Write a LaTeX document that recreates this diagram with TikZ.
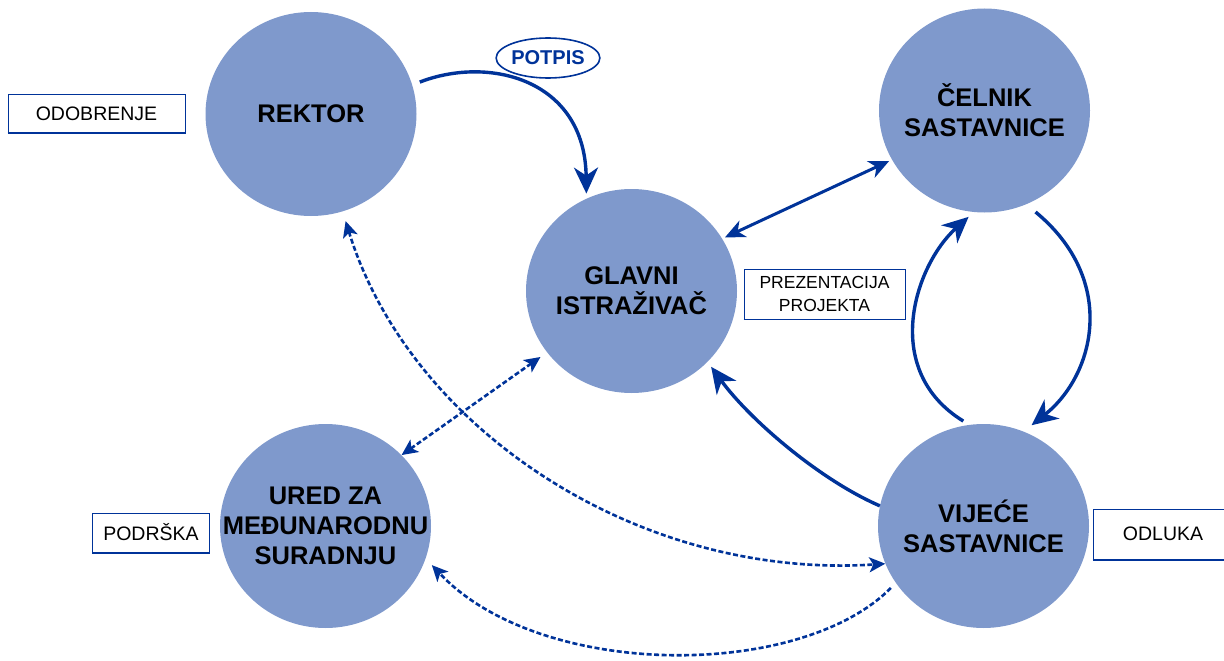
\documentclass[tikz,border=0pt]{standalone}
\usepackage{fontspec}
\setmainfont{Liberation Sans}
\usetikzlibrary{arrows.meta,shapes.geometric}
\definecolor{cfill}{RGB}{127,153,204}
\definecolor{dblue}{RGB}{0,51,153}
\begin{document}
\begin{tikzpicture}[x=1pt,y=-1pt,
  actor/.style={ellipse, fill=cfill, minimum width=211pt, minimum height=204pt, inner sep=-40pt, align=center, font=\fontsize{25.5}{30}\selectfont\bfseries},
  labelbox/.style={draw=dblue, line width=1pt, fill=white, font=\fontsize{19.5}{23}\selectfont, align=center, inner sep=0pt},
  boxbottom/.style={draw=dblue, line width=2.5pt},
  bigarrow/.style={draw=dblue, line width=3.4pt, -{Stealth[length=26pt,width=24pt,inset=8pt]}},
  medarrow/.style={draw=dblue, line width=3pt, {Stealth[length=20pt,width=18pt,inset=6pt]}-{Stealth[length=20pt,width=18pt,inset=6pt]}},
  dasharrow/.style={draw=dblue, line width=2.6pt, dash pattern=on 5pt off 2.5pt, {Stealth[length=16pt,width=15pt,inset=4pt]}-{Stealth[length=16pt,width=15pt,inset=4pt]}},
  dashline/.style={draw=dblue, line width=2.6pt, dash pattern=on 5pt off 2.5pt, -{Stealth[length=16pt,width=15pt,inset=4pt]}}
]
\useasboundingbox (0,0) rectangle (1224,661);

% circles
\node[actor] (rektor) at (311,114) {REKTOR};
\node[actor] (celnik) at (984.5,110.5) {ČELNIK\\SASTAVNICE};
\node[actor] (glavni) at (631.5,291) {GLAVNI\\ISTRAŽIVAČ};
\node[actor] (ured) at (325.5,526) {URED ZA\\MEĐUNARODNU\\SURADNJU};
\node[actor] (vijece) at (983.5,526) {VIJEĆE\\SASTAVNICE};

% label boxes
\node[labelbox, minimum width=177pt, minimum height=38pt] (odobrenje) at (96.5,113.5) {ODOBRENJE};
\draw[boxbottom] (odobrenje.south west) -- (odobrenje.south east);
\node[labelbox, minimum width=161pt, minimum height=50pt, font=\fontsize{17.5}{23}\selectfont] (prezentacija) at (824.5,294) {PREZENTACIJA\\PROJEKTA};
\draw[boxbottom, line width=1.8pt] (prezentacija.south west) -- (prezentacija.south east);
\node[labelbox, minimum width=117pt, minimum height=39pt] (podrska) at (151,532.5) {PODRŠKA};
\draw[boxbottom, line width=2pt] (podrska.south west) -- (podrska.south east);
\node[labelbox, minimum width=140pt, minimum height=50pt, text width=140pt] (odluka) at (1163,534) {ODLUKA};
\draw[boxbottom, line width=2pt] (odluka.south west) -- (odluka.south east);

% connectors
\draw[bigarrow, shorten <=8pt, shorten >=5pt] (rektor.16) .. controls (490,55) and (585,80) .. (glavni.116);
\draw[medarrow, shorten <=3pt, shorten >=3pt] (glavni.30) -- (celnik.208);
\draw[bigarrow, shorten <=12pt, shorten >=10pt] (celnik.-66) .. controls (1118,280) and (1095,375) .. (vijece.67);
\draw[bigarrow, shorten <=7pt, shorten >=7pt] (vijece.98) .. controls (880,370) and (915,265) .. (celnik.264);
\draw[bigarrow, shorten >=6pt] (vijece.169) .. controls (820,480) and (750,420) .. (glavni.-43);
\draw[dasharrow, shorten >=8pt] (ured.43) -- (glavni.216);
\draw[dasharrow, shorten <=10pt] (rektor.-72) .. controls (410,430) and (640,580) .. (vijece.201);
\draw[dashline, shorten <=7pt, shorten >=9pt] (vijece.213) .. controls (800,680) and (540,680) .. (ured.-18);

% signature label
\node[ellipse, draw=dblue, line width=1.6pt, fill=white, minimum width=100pt, minimum height=40pt, inner sep=0pt, text=dblue, font=\fontsize{20}{24}\selectfont\bfseries] (potpis) at (548,58) {POTPIS};
\end{tikzpicture}
\end{document}
